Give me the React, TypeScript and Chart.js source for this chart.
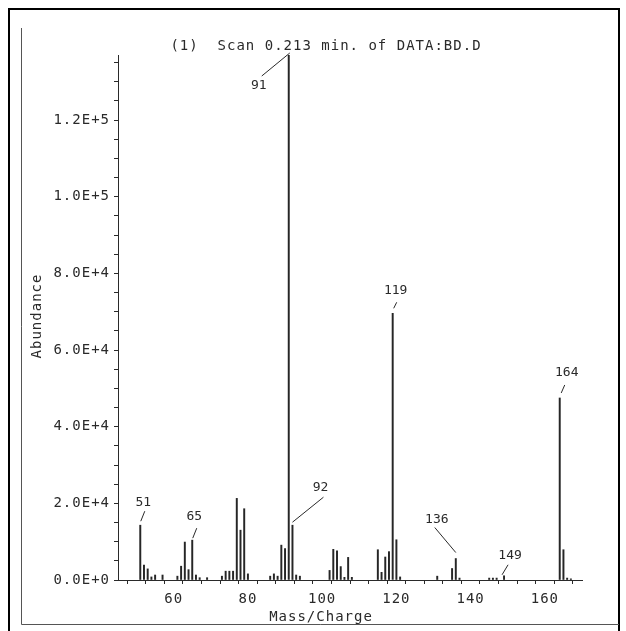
import { useEffect, useRef } from "react";
import { Chart, registerables } from "chart.js";

Chart.register(...registerables);

// Mass spectrum: m/z values and their abundances
const massToCharge = [
  51, 52, 53, 54, 55, 57, 61, 62, 63, 64, 65, 66, 67, 69, 73, 74, 75, 76, 77, 78,
  79, 80, 86, 87, 88, 89, 90, 91, 92, 93, 94, 102, 103, 104, 105, 106, 107, 108,
  115, 116, 117, 118, 119, 120, 121, 131, 135, 136, 137, 145, 146, 147, 149, 164,
  165, 166, 167,
];
const abundance = [
  14300, 3900, 2900, 800, 1300, 1300, 1000, 3600, 9900, 2700, 10400, 1300, 600, 600,
  1000, 2300, 2300, 2300, 21300, 13000, 18600, 1600, 1000, 1600, 1000, 9100, 8200,
  137000, 14300, 1300, 1000, 2500, 8000, 7600, 3500, 700, 5900, 700, 7900, 2000, 6000,
  7400, 69600, 10500, 800, 1000, 3000, 5600, 500, 500, 500, 500, 1100, 47500, 7900,
  500, 300,
];
// Peaks that carry an m/z label
const labelledPeaks = [51, 65, 91, 92, 119, 136, 149, 164];

// Axis ticks: minor marks every step, labels on the listed values
const xTickValues = Array.from({ length: 26 }, (_, i) => 45 + i * 5);
const xLabelledTicks = [60, 80, 100, 120, 140, 160];
const yTickValues = Array.from({ length: 28 }, (_, i) => i * 5000);
const yLabelledTicks = [0, 20000, 40000, 60000, 80000, 100000, 120000];

const titleText = "(1)  Scan 0.213 min. of DATA:BD.D";
const xAxisTitle = "Mass/Charge";
const yAxisTitle = "Abundance";

const xMin = 45;
const xMax = 170;
const yMax = 137000;

const INK = "#2a2a2a";
const MONO = "'DejaVu Sans Mono', 'Liberation Mono', monospace";

// Leader line and label placement relative to each peak top:
// [lineStartDx, lineStartDy, lineEndDx, lineEndDy, textDx, textDy]
const leaderGeometry: Record<number, number[]> = {
  51: [0.5, -4, 4.5, -14, 3, -23],
  65: [0.5, -2, 4.5, -12, 2, -24],
  91: [1, -2, -27, 21, -30, 31],
  92: [0, -3, 31, -28, 28, -38],
  119: [1, -5, 4, -11, 3, -23],
  136: [0, -6, -21, -31, -19, -39],
  149: [-2, -1, 4, -11, 6, -20],
  164: [1.5, -5, 5, -13, 7, -25],
};

const plotterDecor = {
  id: "plotterDecor",
  beforeDraw(chart: any) {
    const ctx = chart.ctx as CanvasRenderingContext2D;
    ctx.save();
    ctx.fillStyle = "#ffffff";
    ctx.fillRect(0, 0, chart.width, chart.height);

    // outer page frame
    ctx.strokeStyle = "#000000";
    ctx.lineWidth = 2;
    ctx.beginPath();
    ctx.moveTo(9, 631);
    ctx.lineTo(9, 9);
    ctx.lineTo(619, 9);
    ctx.lineTo(619, 631);
    ctx.stroke();

    // inner plot frame
    ctx.strokeStyle = "#555555";
    ctx.lineWidth = 1;
    ctx.beginPath();
    ctx.moveTo(21.5, 28);
    ctx.lineTo(21.5, 624.5);
    ctx.lineTo(619, 624.5);
    ctx.stroke();
    ctx.restore();
    (ctx as any).letterSpacing = "1px";
  },
  afterDraw(chart: any) {
    const ctx = chart.ctx as CanvasRenderingContext2D;
    const xs = chart.scales.x;
    const ys = chart.scales.y;
    ctx.save();
    ctx.fillStyle = INK;
    ctx.strokeStyle = INK;
    ctx.textAlign = "center";
    ctx.textBaseline = "middle";
    ctx.font = `14px ${MONO}`;
    (ctx as any).letterSpacing = "1px";

    ctx.fillText(titleText, 326, 46);
    ctx.fillText(xAxisTitle, 321, 617);

    ctx.save();
    ctx.translate(37, 316);
    ctx.rotate(-Math.PI / 2);
    ctx.fillText(yAxisTitle, 0, 0);
    ctx.restore();

    // peak labels with leader lines
    ctx.font = `13px ${MONO}`;
    (ctx as any).letterSpacing = "0px";
    ctx.lineWidth = 1;
    labelledPeaks.forEach((mz) => {
      const i = massToCharge.indexOf(mz);
      if (i < 0) return;
      const px = xs.getPixelForValue(mz);
      const py = ys.getPixelForValue(abundance[i]);
      const g = leaderGeometry[mz];
      ctx.beginPath();
      ctx.moveTo(px + g[0], py + g[1]);
      ctx.lineTo(px + g[2], py + g[3]);
      ctx.stroke();
      ctx.fillText(String(mz), px + g[4], py + g[5]);
    });
    ctx.restore();
  },
};

export default function App() {
  const canvasRef = useRef<HTMLCanvasElement | null>(null);

  useEffect(() => {
    const canvas = canvasRef.current;
    if (!canvas) return;
    const tickFont = { family: MONO, size: 14 };
    const chart = new Chart(canvas, {
      type: "bar",
      data: {
        datasets: [
          {
            data: massToCharge.map((m, i) => ({ x: m, y: abundance[i] })),
            backgroundColor: "#262626",
            borderWidth: 0,
            barThickness: 1.3,
          },
        ],
      },
      options: {
        animation: false,
        responsive: false,
        devicePixelRatio: 1,
        layout: { padding: { top: 55, right: 44, bottom: 0, left: 0 } },
        plugins: {
          legend: { display: false },
          title: { display: false },
          tooltip: { enabled: false },
        },
        scales: {
          x: {
            type: "linear",
            min: xMin,
            max: xMax,
            offset: false,
            grid: {
              display: true,
              drawOnChartArea: false,
              drawTicks: true,
              tickLength: 4,
              color: INK,
              lineWidth: 1,
            },
            border: { display: true, color: INK, width: 1 },
            ticks: {
              autoSkip: false,
              maxRotation: 0,
              padding: 7,
              color: INK,
              font: tickFont,
              callback: (v: any) =>
                xLabelledTicks.includes(Number(v)) ? String(v) : "",
            },
            afterBuildTicks: (s: any) => {
              s.ticks = xTickValues.map((value) => ({ value }));
            },
            afterFit: (s: any) => {
              s.height = 51;
            },
          },
          y: {
            type: "linear",
            min: 0,
            max: yMax,
            grid: {
              display: true,
              drawOnChartArea: false,
              drawTicks: true,
              tickLength: 4,
              color: INK,
              lineWidth: 1,
            },
            border: { display: true, color: INK, width: 1 },
            ticks: {
              autoSkip: false,
              padding: 4,
              color: INK,
              font: tickFont,
              callback: (v: any) =>
                yLabelledTicks.includes(Number(v))
                  ? Number(v).toExponential(1).toUpperCase()
                  : "",
            },
            afterBuildTicks: (s: any) => {
              s.ticks = yTickValues.map((value) => ({ value }));
            },
            afterFit: (s: any) => {
              s.width = 118;
            },
          },
        },
      },
      plugins: [plotterDecor],
    });
    return () => chart.destroy();
  }, []);

  return (
    <div style={{ position: "fixed", left: 0, top: 0, width: 626, height: 631, background: "#fff" }}>
      <canvas ref={canvasRef} width={626} height={631} style={{ display: "block" }} />
    </div>
  );
}
